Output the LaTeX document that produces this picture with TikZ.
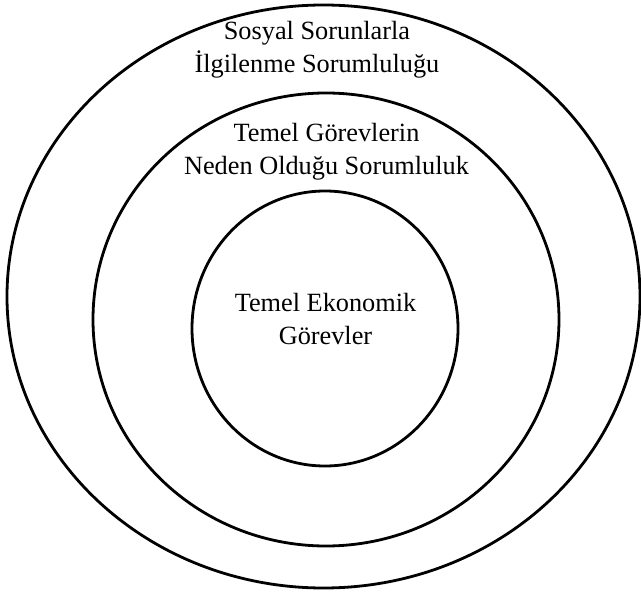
\documentclass[tikz,border=0pt]{standalone}
\usepackage{fontspec}
\setmainfont{Liberation Serif}
\usetikzlibrary{shapes.geometric}

\begin{document}
\begin{tikzpicture}[x=1pt,y=-1pt,
  ring/.style={ellipse,draw,line width=2.8pt,inner sep=0pt},
  lbl/.style={align=center,inner sep=0pt,font=\fontsize{26.3}{33}\selectfont}]
\fill [white] (0,0) rectangle (641,594);
\useasboundingbox (0,0) rectangle (641,594);
\node [ring,minimum width=633pt,minimum height=583pt] (outer) at (323.5,296.5) {};
\node [ring,minimum width=466pt,minimum height=453pt] (middle) at (326,319.5) {};
\node [ring,minimum width=266pt,minimum height=275pt] (inner) at (325,328.5) {};
\node [lbl] (social) at (317,49.5) {Sosyal Sorunlarla\\İlgilenme Sorumluluğu};
\node [lbl] (basic) at (326.5,151.5) {Temel Görevlerin\\Neden Olduğu Sorumluluk};
\node [lbl] (econ) at (325.5,319) {Temel Ekonomik\\Görevler};
\end{tikzpicture}
\end{document}
